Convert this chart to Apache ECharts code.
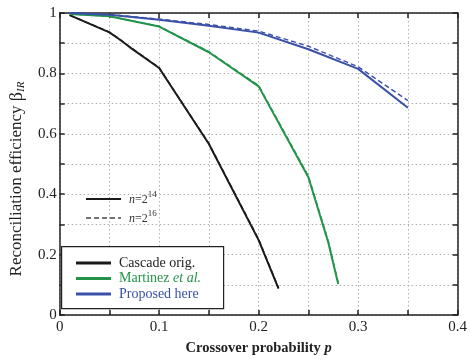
<!DOCTYPE html>
<html>
<head>
<meta charset="utf-8">
<script src="https://cdn.jsdelivr.net/npm/echarts@6/dist/echarts.min.js"></script>
<style>
  html, body { margin: 0; padding: 0; background: #fff; }
  #chart { width: 470px; height: 361px; }
</style>
</head>
<body>
<div id="chart"></div>
<script>
// crossover probability p and reconciliation efficiency beta_IR
const pCascade = [0.01, 0.05, 0.06, 0.07, 0.1, 0.15, 0.2, 0.22];
const effCascade14 = [0.993, 0.936, 0.913, 0.888, 0.818, 0.566, 0.248, 0.087];
const effCascade16 = [0.993, 0.937, 0.914, 0.889, 0.819, 0.568, 0.251, 0.09];

const pMartinez = [0.01, 0.05, 0.1, 0.15, 0.2, 0.25, 0.27, 0.28];
const effMartinez14 = [0.997, 0.989, 0.955, 0.87, 0.757, 0.456, 0.24, 0.103];
const effMartinez16 = [0.997, 0.989, 0.956, 0.872, 0.76, 0.46, 0.245, 0.106];

const pProposed = [0.01, 0.05, 0.1, 0.15, 0.2, 0.25, 0.3, 0.35];
const effProposed14 = [1.0, 0.994, 0.978, 0.958, 0.935, 0.88, 0.815, 0.686];
const effProposed16 = [1.0, 0.995, 0.98, 0.962, 0.94, 0.89, 0.822, 0.71];

const xTicks = [0, 0.1, 0.2, 0.3, 0.4];
const yTicks = [0, 0.2, 0.4, 0.6, 0.8, 1];

const BLACK = '#1a1a1a';
const GREEN = '#24934a';
const BLUE = '#3a50a8';
const FONT = 'Liberation Serif';

const zip = (xs, ys) => xs.map((x, i) => [x, ys[i]]);
const near = (v, list) => list.find(t => Math.abs(t - v) < 1e-6);
const fmt = (v, list) => {
  const t = near(v, list);
  if (t === undefined) return '';
  return (t === 0 || t === 1) ? String(t) : t.toFixed(1);
};

const chart = echarts.init(document.getElementById('chart'));

const line = (name, xs, ys, color, dashed) => ({
  name: name,
  type: 'line',
  data: zip(xs, ys),
  showSymbol: false,
  symbol: 'none',
  silent: true,
  lineStyle: { color: color, width: dashed ? 1.4 : 2, type: dashed ? [5, 3] : 'solid' },
  itemStyle: { color: color },
  z: dashed ? 3 : 4,
});

const axisBase = {
  type: 'value',
  axisLine: { show: true, onZero: false, lineStyle: { color: '#222', width: 1.5 } },
  axisTick: { show: true, inside: true, length: 5, lineStyle: { color: '#222', width: 1.5 } },
};

const nLabel = sup => ({
  text: '{i|n}{t|=2}{s|' + sup + '}',
  rich: {
    i: { fontFamily: FONT, fontSize: 12, fontStyle: 'italic', fill: '#333', verticalAlign: 'bottom', lineHeight: 16 },
    t: { fontFamily: FONT, fontSize: 12, fill: '#333', verticalAlign: 'bottom', lineHeight: 16 },
    s: { fontFamily: FONT, fontSize: 9, fill: '#333', verticalAlign: 'top', lineHeight: 16 },
  },
});

const option = {
  animation: false,
  grid: { left: 45, right: 9, top: 13, bottom: 37 },
  xAxis: [
    {
      ...axisBase, position: 'bottom', min: 0, max: 0.4, interval: 0.05,
      axisLabel: { margin: 5, fontFamily: FONT, fontSize: 15, color: '#222', formatter: v => fmt(v, xTicks) },
      splitLine: { show: true, lineStyle: { color: '#b0b0b0', width: 1, type: [1.5, 2.5] } },
      name: '{t|Crossover probability }{i|p}',
      nameLocation: 'middle', nameGap: 26,
      nameTextStyle: {
        rich: {
          t: { fontFamily: FONT, fontSize: 14.5, color: '#222', fontWeight: 'bold' },
          i: { fontFamily: FONT, fontSize: 14.5, color: '#222', fontWeight: 'bold', fontStyle: 'italic' },
        },
      },
    },
    {
      ...axisBase, position: 'top', min: 0, max: 0.4, interval: 0.05,
      axisLabel: { show: false }, splitLine: { show: false },
    },
  ],
  yAxis: [
    {
      ...axisBase, position: 'left', min: 0, max: 1, interval: 0.1,
      axisLabel: { margin: 3, fontFamily: FONT, fontSize: 15, color: '#222', formatter: v => fmt(v, yTicks) },
      splitLine: { show: true, lineStyle: { color: '#b0b0b0', width: 1, type: [1.5, 2.5] } },
      name: '{t|Reconciliation efficiency }{b|β}{s|IR}',
      nameLocation: 'middle', nameGap: 27,
      nameTextStyle: {
        padding: [0, 30, 0, 0],
        rich: {
          t: { fontFamily: FONT, fontSize: 17, color: '#222', lineHeight: 20 },
          b: { fontFamily: FONT, fontSize: 18, color: '#222', lineHeight: 20 },
          s: { fontFamily: FONT, fontSize: 11, color: '#222', fontStyle: 'italic', verticalAlign: 'bottom', lineHeight: 14 },
        },
      },
    },
    {
      ...axisBase, position: 'right', min: 0, max: 1, interval: 0.1,
      axisLabel: { show: false }, splitLine: { show: false },
    },
  ],
  legend: {
    show: true,
    z: 20,
    orient: 'vertical',
    left: 76, top: 256,
    itemWidth: 35, itemHeight: 3,
    itemGap: 1.5,
    icon: 'rect',
    padding: 0,
    data: ['Cascade orig.', 'Martinez et al.', 'Proposed here'],
    formatter: name => {
      if (name === 'Cascade orig.') return '{k|Cascade orig.}';
      if (name === 'Martinez et al.') return '{g|Martinez }{gi|et al.}';
      return '{b|Proposed here}';
    },
    textStyle: {
      padding: [0, 0, 0, 3],
      rich: {
        k: { fontFamily: FONT, fontSize: 14, color: '#222', lineHeight: 14 },
        g: { fontFamily: FONT, fontSize: 14, color: GREEN, lineHeight: 14 },
        gi: { fontFamily: FONT, fontSize: 14, color: GREEN, fontStyle: 'italic', lineHeight: 14 },
        b: { fontFamily: FONT, fontSize: 14, color: BLUE, lineHeight: 14 },
      },
    },
  },
  graphic: [
    {
      type: 'rect', left: 61, top: 246, z: 10, silent: true,
      shape: { width: 162, height: 62 },
      style: { fill: '#fff', stroke: '#222', lineWidth: 1.2 },
    },
    { type: 'line', z: 11, shape: { x1: 86, y1: 199, x2: 121, y2: 199 }, style: { stroke: BLACK, lineWidth: 2 } },
    { type: 'line', z: 11, shape: { x1: 86, y1: 218, x2: 121, y2: 218 }, style: { stroke: '#444', lineWidth: 1.4, lineDash: [5, 3] } },
    { type: 'text', z: 11, left: 129, top: 190, style: nLabel('14') },
    { type: 'text', z: 11, left: 129, top: 209, style: nLabel('16') },
  ],
  series: [
    line('Cascade orig. 16', pCascade, effCascade16, BLACK, true),
    line('Martinez et al. 16', pMartinez, effMartinez16, GREEN, true),
    line('Proposed here 16', pProposed, effProposed16, BLUE, true),
    line('Cascade orig.', pCascade, effCascade14, BLACK, false),
    line('Martinez et al.', pMartinez, effMartinez14, GREEN, false),
    line('Proposed here', pProposed, effProposed14, BLUE, false),
  ],
};

chart.setOption(option);
</script>
</body>
</html>
